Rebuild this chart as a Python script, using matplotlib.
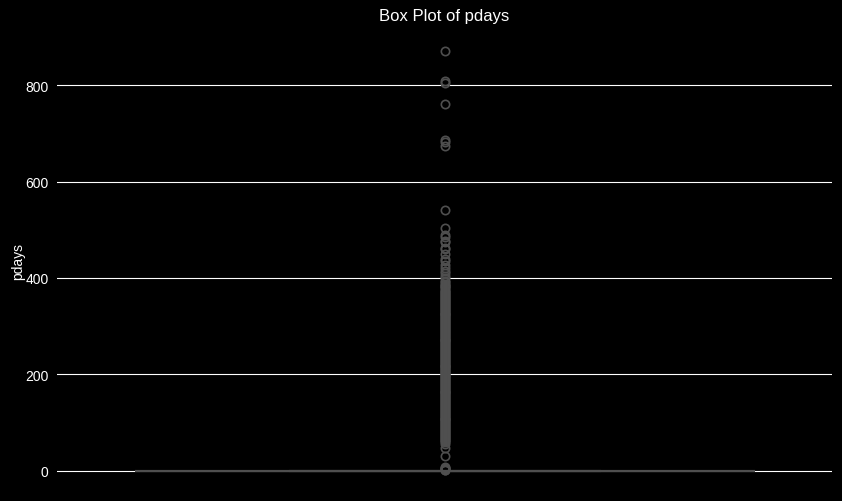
import matplotlib
matplotlib.use("Agg")
import matplotlib.pyplot as plt
import numpy as np

# Data: pdays (-1 = not previously contacted, the bulk of the records)
n_not_contacted = 3705
outliers_high = [871, 808, 804, 761, 687, 683, 674, 541, 503, 490, 484, 476, 475,
                 462, 460, 449, 440, 435, 427, 421, 414, 410, 403, 399, 394, 391, 388]
outliers_dense = [385, 383, 380, 378, 375, 373, 371, 368, 366, 364, 362, 360, 358, 356,
                  354, 352, 350, 348, 346, 344, 342, 340, 338, 336, 334, 332, 330, 328,
                  326, 324, 322, 320, 318, 316, 314, 312, 310, 308, 306, 304, 302, 300,
                  298, 296, 294, 292, 290, 288, 286, 284, 282, 280, 278, 276, 274, 272,
                  270, 268, 266, 264, 262, 260, 258, 256, 254, 252, 250, 248, 246, 244,
                  242, 240, 238, 236, 234, 232, 230, 228, 226, 224, 222, 220, 218, 216,
                  214, 212, 210, 208, 206, 204, 202, 200, 198, 196, 194, 192, 190, 188,
                  186, 184, 182, 180, 178, 176, 174, 172, 170, 168, 166, 164, 162, 160,
                  158, 156, 154, 152, 150, 148, 146, 144, 142, 140, 138, 136, 134, 132,
                  130, 128, 126, 124, 122, 120, 118, 116, 114, 112, 110, 108, 106, 104,
                  102, 100, 98, 96, 94, 92, 90, 88, 86, 84, 82, 80, 78, 76, 74, 72, 70,
                  68, 66, 64, 62, 60]
outliers_low = [56, 46, 31, 8, 6, 5, 4, 3, 2, 1]

pdays = np.array([-1] * n_not_contacted + outliers_high + outliers_dense + outliers_low)

plt.rcParams['font.family'] = ['Liberation Sans', 'DejaVu Sans']

fig = plt.figure(figsize=(8.42, 5.02), dpi=100, facecolor='black')
ax = fig.add_axes([57 / 842, 9 / 502, 775 / 842, 462 / 502])
ax.set_facecolor('black')

line_col = '#4f4f4f'
ax.boxplot(pdays, positions=[0], widths=0.8, patch_artist=True,
           boxprops=dict(facecolor='#8dd3c7', edgecolor=line_col, linewidth=1.5),
           medianprops=dict(color=line_col, linewidth=1.5),
           whiskerprops=dict(color=line_col, linewidth=1.5),
           capprops=dict(color=line_col, linewidth=1.5),
           flierprops=dict(marker='o', markersize=6, markerfacecolor='none',
                           markeredgecolor=line_col, markeredgewidth=1.2),
           capwidths=0.4)

ax.set_xlim(-0.5, 0.5)
ax.set_ylim(-44.6, 914.6)
ax.set_yticks([0, 200, 400, 600, 800])
ax.set_xticks([])
ax.yaxis.grid(True, color='white', linewidth=0.8)
ax.set_axisbelow(True)
for s in ax.spines.values():
    s.set_visible(False)
ax.tick_params(axis='y', length=0, colors='white', labelsize=10, pad=6)
ax.set_ylabel('pdays', color='white', fontsize=10, labelpad=0)
ax.set_title('Box Plot of pdays', color='white', fontsize=12, pad=7)

fig.savefig('out.png', dpi=100, facecolor='black')
